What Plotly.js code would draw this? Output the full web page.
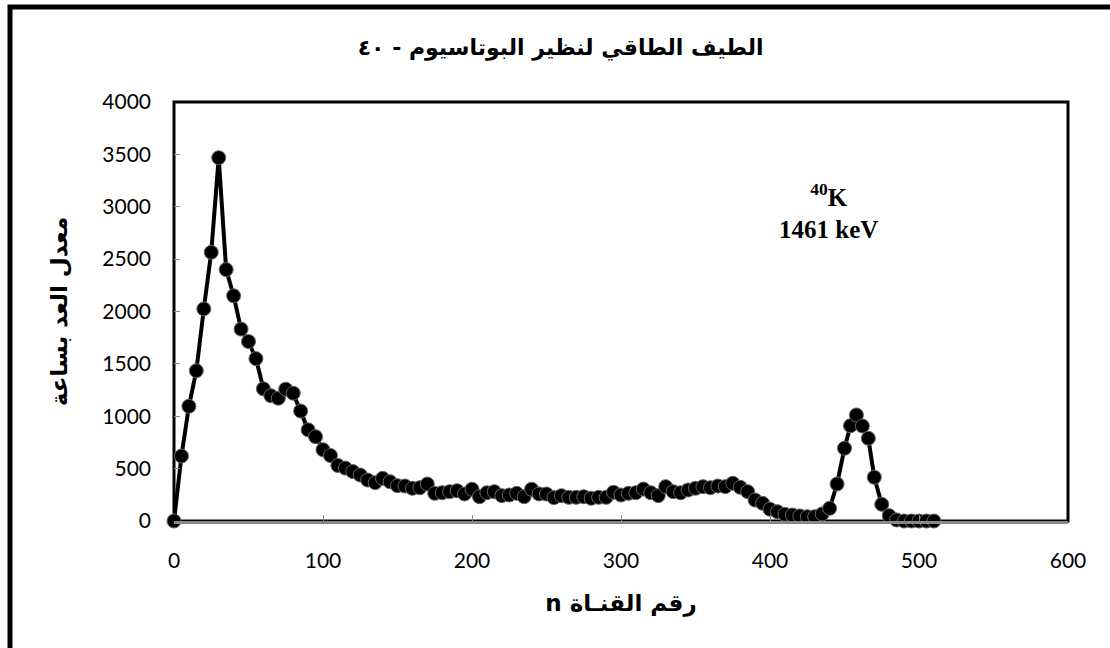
<!DOCTYPE html>
<html>
<head>
<meta charset="utf-8">
<script src="https://cdn.plot.ly/plotly-3.0.1.min.js"></script>
<style>html,body{margin:0;padding:0;background:#fff;}#chart{width:1110px;height:648px;}</style>
</head>
<body>
<div id="chart"></div>
<script>
// Channel numbers
var channels = [0,5,10,15,20,25,30,35,40,45,50,55,60,65,70,75,80,85,90,95,
  100,105,110,115,120,125,130,135,140,145,150,155,160,165,170,175,180,185,190,195,
  200,205,210,215,220,225,230,235,240,245,250,255,260,265,270,275,280,285,290,295,
  300,305,310,315,320,325,330,335,340,345,350,355,360,365,370,375,380,385,390,395,
  400,405,410,415,420,425,430,435,440,445,450,454,458,462,466,470,475,480,485,490,
  495,500,505,510];
// Count rate per hour
var counts = [0,620,1095,1435,2025,2565,3468,2400,2150,1832,1713,1550,1262,1196,1172,1258,1220,1050,870,805,
  680,625,530,505,472,439,391,366,407,375,337,334,312,318,353,264,270,280,289,258,
  303,232,270,280,242,248,264,232,303,258,258,223,242,226,226,232,217,226,226,274,
  248,264,270,305,270,242,328,280,270,296,312,328,318,334,328,360,322,280,200,169,
  112,89,64,57,48,41,41,67,121,353,694,910,1012,907,789,417,159,51,10,0,
  0,0,0,0];
var xTickVals = [0,100,200,300,400,500,600];
var titleText = 'الطيف الطاقي لنظير البوتاسيوم - ٤٠';
var xTitle = 'n رقم القنـاة';
var yTitle = 'معدل العد بساعة';
var annText = '<sup>40</sup>K<br>1461 keV';

var trace = {
  x: channels, y: counts, type: 'scatter', mode: 'lines+markers',
  line: {color: '#000', width: 4},
  marker: {color: '#000', size: 14, line: {color: '#666', width: 1}},
  cliponaxis: false, hoverinfo: 'skip'
};

// paper coordinate helpers for the outer frame (plot area 174..1068 x 102..521)
function px(v){return (v-174)/894;}
function py(v){return (521-v)/419;}

var arabicFont = 'DejaVu Sans, Noto Sans, sans-serif';
var layout = {
  width: 1110, height: 648,
  margin: {l:174, r:42, t:102, b:127},
  paper_bgcolor: '#fff', plot_bgcolor: '#fff',
  showlegend: false,
  title: {text: '<b>'+titleText+'</b>', x: 0.505, xref: 'container', xanchor: 'center', y: 1-47/648, yanchor: 'middle',
          font: {family: arabicFont, size: 22, color: '#000'}},
  xaxis: {range: [0, 600], tickvals: xTickVals, ticks: 'inside', ticklen: 6, tickcolor: '#888', tickwidth: 1,
          showgrid: false, zeroline: false, showline: true, linecolor: '#888', linewidth: 3,
          ticklabelstandoff: 19,
          tickfont: {family: 'Lato, Open Sans, sans-serif', size: 21, color: '#000'},
          title: {text: '<b>'+xTitle+'</b>', standoff: 24, font: {family: arabicFont, size: 23, color: '#000'}}},
  yaxis: {range: [0, 4000], dtick: 500, ticks: 'inside', ticklen: 6, tickcolor: '#888', tickwidth: 1,
          showgrid: false, zeroline: false, showline: false,
          ticklabelstandoff: 22,
          tickfont: {family: 'Lato, Open Sans, sans-serif', size: 21, color: '#000'},
          title: {text: '<b>'+yTitle+'</b>', standoff: 28, font: {family: arabicFont, size: 23, color: '#000'}}},
  shapes: [
    {type: 'rect', xref: 'paper', yref: 'paper', x0: 0, x1: 1, y0: 0, y1: 1, layer: 'below',
     line: {color: '#000', width: 3}},
    {type: 'rect', xref: 'paper', yref: 'paper', x0: px(10), x1: px(1125), y0: py(660), y1: py(7),
     line: {color: '#000', width: 5}}
  ],
  annotations: [
    {x: 439, y: 2960, xref: 'x', yref: 'y', text: '<b>'+annText+'</b>', showarrow: false, align: 'center',
     font: {family: 'Liberation Serif, Times New Roman, serif', size: 25, color: '#000'}}
  ]
};
Plotly.newPlot('chart', [trace], layout, {staticPlot: true, displayModeBar: false});
</script>
</body>
</html>
